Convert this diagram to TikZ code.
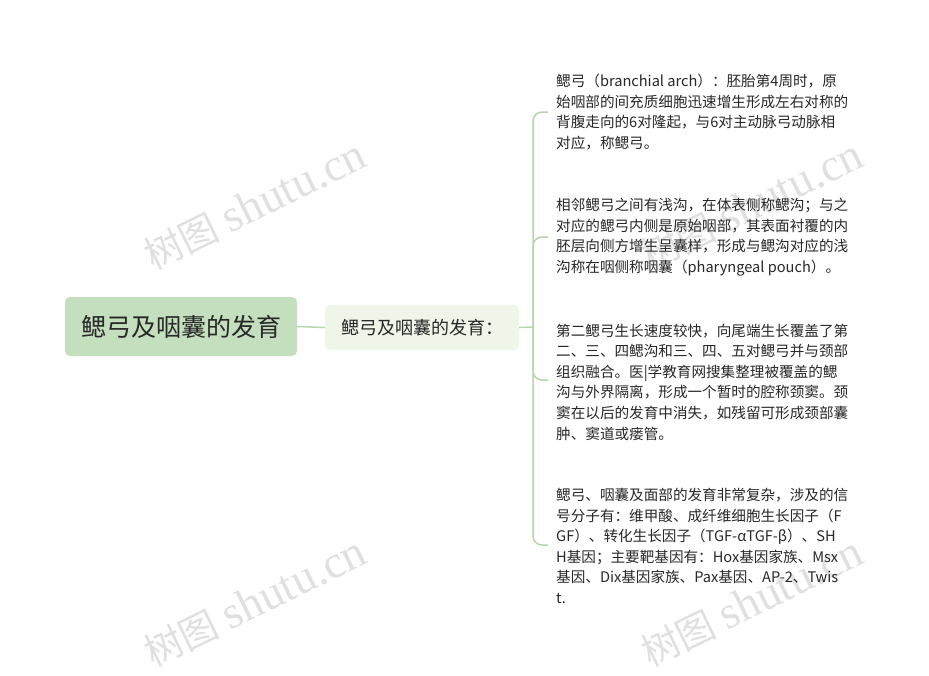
\documentclass[tikz,border=0pt]{standalone}
\usepackage{fontspec}
\setmainfont{Noto Sans CJK SC}
\newfontfamily\wmlatin{Liberation Serif}
\newfontfamily\wmcjk{Noto Sans CJK SC}
\definecolor{rootfill}{RGB}{196,223,190}
\definecolor{subfill}{RGB}{239,246,233}
\definecolor{linecol}{RGB}{184,213,175}
\definecolor{txt}{RGB}{40,40,40}
\definecolor{wmcol}{RGB}{224,224,224}
\newcommand{\wmtext}{{\wmcjk\fontsize{38}{44}\selectfont 树图}\hspace{10pt}{\wmlatin\fontsize{46}{50}\selectfont shutu.cn}}
\tikzset{
  rootbox/.style={fill=rootfill, rounded corners=5pt, minimum width=232pt, minimum height=59pt, inner sep=0pt, text=txt, font=\fontsize{25}{30}\selectfont},
  subbox/.style={fill=subfill, rounded corners=5pt, minimum width=194pt, minimum height=45pt, inner sep=0pt, text=txt, font=\fontsize{18}{22}\selectfont},
  leaf/.style={anchor=west, align=left, inner sep=0pt, text=txt, font=\fontsize{14.6}{20.6}\selectfont},
  conn/.style={draw=linecol, line width=1.5pt},
  wm/.style={text=wmcol, rotate=26, inner sep=0pt}
}
\begin{document}
\begin{tikzpicture}[x=1pt,y=-1pt]
\useasboundingbox[fill=white] (0,0) rectangle (929,675);
% watermarks
\node[wm] (w1) at (255,205) {\wmtext};
\node[wm] (w2) at (752,205) {\wmtext};
\node[wm] (w3) at (255,602) {\wmtext};
\node[wm] (w4) at (752,602) {\wmtext};
% nodes
\node[rootbox] (root) at (181,326.5) {鳃弓及咽囊的发育};
\node[subbox] (sub) at (422,327.5) {鳃弓及咽囊的发育：};
\coordinate (trunk) at (533,327);
\coordinate (e1) at (548,112);
\coordinate (e2) at (548,237);
\coordinate (e3) at (548,380);
\coordinate (e4) at (548,545);
\node[leaf] (t1) at (556,112) {鳃弓（branchial arch）：胚胎第4周时，原\\始咽部的间充质细胞迅速增生形成左右对称的\\背腹走向的6对隆起，与6对主动脉弓动脉相\\对应，称鳃弓。};
\node[leaf] (t2) at (556,237) {相邻鳃弓之间有浅沟，在体表侧称鳃沟；与之\\对应的鳃弓内侧是原始咽部，其表面衬覆的内\\胚层向侧方增生呈囊样，形成与鳃沟对应的浅\\沟称在咽侧称咽囊（pharyngeal pouch）。};
\node[leaf] (t3) at (556,382) {第二鳃弓生长速度较快，向尾端生长覆盖了第\\二、三、四鳃沟和三、四、五对鳃弓并与颈部\\组织融合。医|学教育网搜集整理被覆盖的鳃\\沟与外界隔离，形成一个暂时的腔称颈窦。颈\\窦在以后的发育中消失，如残留可形成颈部囊\\肿、窦道或瘘管。};
\node[leaf] (t4) at (556,546) {鳃弓、咽囊及面部的发育非常复杂，涉及的信\\号分子有：维甲酸、成纤维细胞生长因子（F\\GF）、转化生长因子（TGF-αTGF-β）、SH\\H基因；主要靶基因有：Hox基因家族、Msx\\基因、Dix基因家族、Pax基因、AP-2、Twis\\t.};
% connectors
\draw[conn] (root.east) -- (sub.west);
\draw[conn] (sub.east) -- (trunk);
\draw[conn, rounded corners=9pt] (trunk) |- (e1);
\draw[conn, rounded corners=9pt] (trunk) |- (e2);
\draw[conn, rounded corners=9pt] (trunk) |- (e3);
\draw[conn, rounded corners=9pt] (trunk) |- (e4);
\end{tikzpicture}
\end{document}
